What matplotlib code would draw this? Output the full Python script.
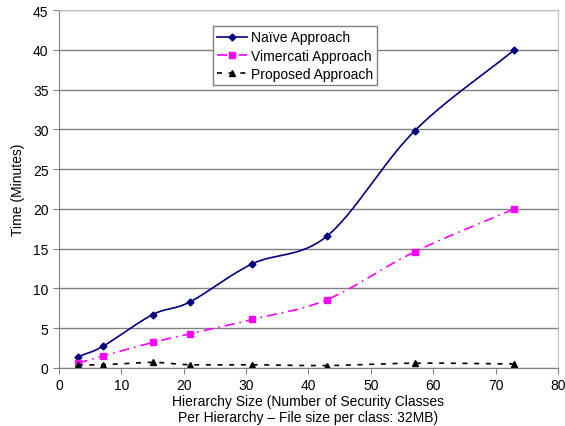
import numpy as np
import matplotlib
matplotlib.use("Agg")
import matplotlib.pyplot as plt

plt.rcParams['font.family'] = ['Liberation Sans', 'DejaVu Sans']
plt.rcParams['font.size'] = 9.5

# hierarchy sizes (number of security classes)
sizes = [3, 7, 15, 21, 31, 43, 57, 73]
# run times in minutes
naive = [1.4, 2.7, 6.7, 8.3, 13.1, 16.6, 29.8, 40.0]
vimercati = [0.6, 1.5, 3.2, 4.3, 6.1, 8.6, 14.6, 20.0]
proposed = [0.4, 0.4, 0.7, 0.4, 0.4, 0.3, 0.6, 0.5]


def smooth(x, y, n=30):
    # catmull-rom curve through the points, like a spreadsheet "smoothed line"
    x = np.asarray(x, float)
    y = np.asarray(y, float)
    px = np.concatenate([[2 * x[0] - x[1]], x, [2 * x[-1] - x[-2]]])
    py = np.concatenate([[2 * y[0] - y[1]], y, [2 * y[-1] - y[-2]]])
    xs, ys = [], []
    t = np.linspace(0, 1, n)
    for i in range(1, len(px) - 2):
        for p, out in ((px, xs), (py, ys)):
            p0, p1, p2, p3 = p[i - 1], p[i], p[i + 1], p[i + 2]
            out.extend(0.5 * (2 * p1 + (-p0 + p2) * t
                              + (2 * p0 - 5 * p1 + 4 * p2 - p3) * t ** 2
                              + (-p0 + 3 * p1 - 3 * p2 + p3) * t ** 3))
    return xs, ys


fig = plt.figure(figsize=(5.65, 4.27), dpi=100)
ax = fig.add_axes([0.1044, 0.136, 0.8832, 0.838])

series = [
    (naive, 'Naïve Approach', '#000080', '-', 'D', 3.5),
    (vimercati, 'Vimercati Approach', '#FF00FF', (0, (6, 3, 1, 3)), 's', 5),
    (proposed, 'Proposed Approach', 'black', (0, (3, 4)), '^', 5),
]
for vals, name, col, ls, mk, ms in series:
    sx, sy = smooth(sizes, vals)
    ax.plot(sx, sy, color=col, linestyle=ls, linewidth=1.2)
    ax.plot(sizes, vals, linestyle='none', marker=mk, color=col, markersize=ms)
    # proxy for the legend
    ax.plot([], [], color=col, linestyle=ls, marker=mk, markersize=ms,
            linewidth=1.2, label=name)

ax.set_xlim(0, 80)
ax.set_ylim(0, 45)
ax.set_xticks(range(0, 81, 10))
ax.set_yticks(range(0, 46, 5))
ax.yaxis.grid(True, color='#808080', linewidth=1)
ax.set_axisbelow(True)
for s in ['top', 'right']:
    ax.spines[s].set_color('#c0c0c0')
for s in ['left', 'bottom']:
    ax.spines[s].set_color('#808080')
ax.tick_params(direction='out', length=4, color='#808080', labelsize=10)

ax.set_ylabel('Time (Minutes)', fontsize=10, labelpad=6)
ax.set_xlabel('Hierarchy Size (Number of Security Classes\nPer Hierarchy – File size per class: 32MB)',
              fontsize=10, labelpad=1)

leg = ax.legend(loc='upper left', bbox_to_anchor=(0.309, 0.955), borderaxespad=0,
                fancybox=False, framealpha=1, edgecolor='#808080', fontsize=10,
                handlelength=2.1, borderpad=0.3, labelspacing=0.3, handletextpad=0.3)
leg.get_frame().set_linewidth(1)

fig.savefig('out.png', dpi=100)
